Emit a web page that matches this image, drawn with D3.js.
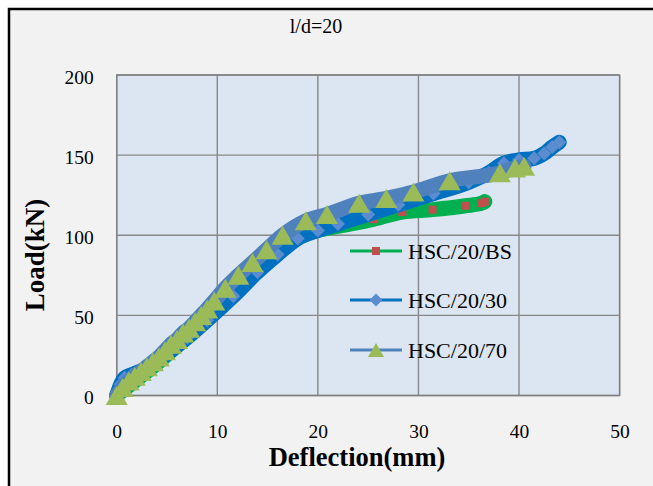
<!DOCTYPE html>
<html><head><meta charset="utf-8">
<script src="https://cdn.jsdelivr.net/npm/d3@7"></script>
<style>html,body{margin:0;padding:0;background:#fff;}svg{display:block;}</style>
</head><body>
<svg id="c" width="653" height="486"></svg>
<script>
// ---- data ----
const xTicks = [0, 10, 20, 30, 40, 50];
const yTicks = [0, 50, 100, 150, 200];
const seriesNames = ["HSC/20/BS", "HSC/20/30", "HSC/20/70"];
// HSC/20/BS : deflection (mm), load (kN)
const bsDef  = [0, 1, 2, 4, 6, 8, 10, 12, 14, 16, 18, 20, 22, 25.6, 28.4, 31.4, 34.7, 36.3, 36.6];
const bsLoad = [0, 5, 10, 20, 31, 43, 56, 69, 81, 92, 99, 103, 105.5, 110, 114.5, 116, 118.4, 120, 121];
// HSC/20/30
const s30Def  = [0, 0.4, 0.8, 1.5, 3, 5, 7, 9, 11.6, 14, 16, 18, 20, 22, 25, 28, 31.5, 35, 37, 38.5, 40, 41.5, 42.5, 43.3, 44];
const s30Load = [0, 7, 11, 13, 17, 26, 36, 47, 62, 77, 88, 98, 103, 107, 113, 119, 126, 133, 139, 145, 147, 148, 151, 155, 158];
// HSC/20/70
const s70Def  = [0, 0.6, 1.2, 1.8, 2.4, 3.0, 3.6, 4.2, 4.8, 5.4, 6.0, 6.6, 7.2, 7.8, 8.4, 9.0, 9.7, 10.8, 12.1, 13.5, 14.9, 16.5, 18.8, 20.9, 24.1, 26.8, 29.5, 33.1, 38.1, 39.6, 40.5];
const s70Load = [0, 5, 9, 12, 15, 18, 21, 24, 28, 32, 35, 39, 42, 46, 50, 54, 59, 67, 75, 83, 91, 100, 109, 113, 120, 123, 127, 134, 139, 142, 143];

// ---- layout ----
const svg = d3.select("#c");
const L = 116.7, R = 619.6, T = 75, B = 395.5;
const x = d3.scaleLinear().domain([0, 50]).range([L, R]);
const y = d3.scaleLinear().domain([0, 200]).range([B, T]);
const serif = "'Liberation Serif','Times New Roman',serif";

svg.append("rect").attr("x", 9).attr("y", 9).attr("width", 660).attr("height", 490)
  .attr("fill", "#F2F2F2").attr("stroke", "#000").attr("stroke-width", 2.5);

svg.append("rect").attr("x", L).attr("y", T).attr("width", R - L).attr("height", B - T)
  .attr("fill", "#DCE6F2");

// grid
const grid = svg.append("g").attr("stroke", "#888").attr("stroke-width", 1.4);
xTicks.forEach(t => grid.append("line").attr("x1", x(t)).attr("x2", x(t)).attr("y1", T).attr("y2", B));
yTicks.forEach(t => grid.append("line").attr("x1", L).attr("x2", R).attr("y1", y(t)).attr("y2", y(t)));
svg.append("rect").attr("x", L).attr("y", T).attr("width", R - L).attr("height", B - T)
  .attr("fill", "none").attr("stroke", "#808080").attr("stroke-width", 1.4);

// axes (labels only)
const xAxis = d3.axisBottom(x).tickValues(xTicks).tickSize(0).tickPadding(0);
const gx = svg.append("g").attr("transform", `translate(0,${B + 28.5})`).call(xAxis);
const yAxis = d3.axisLeft(y).tickValues(yTicks).tickSize(0).tickPadding(0);
const gy = svg.append("g").attr("transform", `translate(${L - 23},2)`).call(yAxis);
[gx, gy].forEach(g => {
  g.select(".domain").remove();
  g.selectAll("text").attr("font-family", serif).attr("font-size", 19.5).attr("fill", "#000");
});

// titles
svg.append("text").attr("x", 316).attr("y", 33).attr("text-anchor", "middle")
  .attr("font-family", serif).attr("font-size", 20).text("l/d=20");
svg.append("text").attr("x", 357).attr("y", 466).attr("text-anchor", "middle")
  .attr("font-family", serif).attr("font-size", 26.5).attr("font-weight", "bold").text("Deflection(mm)");
svg.append("text").attr("transform", "translate(44,255) rotate(-90)").attr("text-anchor", "middle")
  .attr("font-family", serif).attr("font-size", 27).attr("font-weight", "bold").text("Load(kN)");

// series
const mk = (ds, ls) => ds.map((d, i) => [d, ls[i]]);
const line = d3.line().x(d => x(d[0])).y(d => y(d[1])).curve(d3.curveMonotoneX);
const plot = svg.append("g");

const tri = (s, h) => `M0,${-h/2}L${s/2},${h/2}L${-s/2},${h/2}Z`;
const sq = s => `M${-s/2},${-s/2}h${s}v${s}h${-s}Z`;
const dia = s => `M0,${-s}L${s},0L0,${s}L${-s},0Z`;

const series = [
  {data: mk(bsDef, bsLoad), stroke: "#00B050", marker: sq(8), mfill: "#C0504D"},
  {data: mk(s30Def, s30Load), stroke: "#0070C0", marker: dia(7), mfill: "#5B8CCF"},
  {data: mk(s70Def, s70Load), stroke: "#4F81BD", marker: tri(22, 19), mfill: "#9BBB59"}
];
series.forEach(s => {
  plot.append("path").attr("d", line(s.data)).attr("fill", "none").attr("stroke", s.stroke)
    .attr("stroke-width", 15).attr("stroke-linecap", "round").attr("stroke-linejoin", "round");
  plot.selectAll(null).data(s.data).enter().append("path")
    .attr("transform", d => `translate(${x(d[0])},${y(d[1])})`)
    .attr("d", s.marker).attr("fill", s.mfill);
});

// legend
const legY = [251, 300, 350];
const lg = svg.append("g");
series.forEach((s, i) => {
  lg.append("line").attr("x1", 350).attr("x2", 402).attr("y1", legY[i]).attr("y2", legY[i])
    .attr("stroke", s.stroke).attr("stroke-width", 3);
  const m = i === 2 ? tri(16, 14) : (i === 1 ? dia(6.5) : s.marker);
  lg.append("path").attr("transform", `translate(376,${legY[i]})`).attr("d", m).attr("fill", s.mfill);
  lg.append("text").attr("x", 408).attr("y", legY[i] + 8).attr("font-family", serif)
    .attr("font-size", 22).text(seriesNames[i]);
});
</script>
</body></html>
